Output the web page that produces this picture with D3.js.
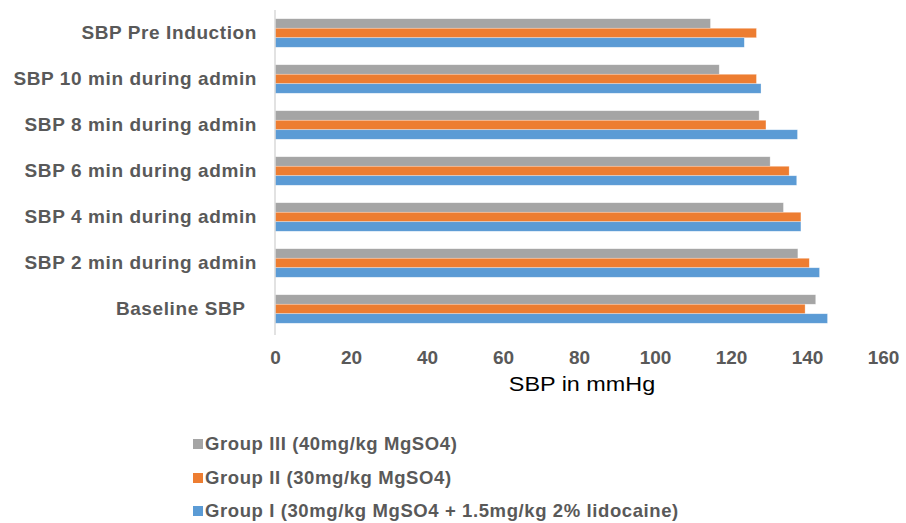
<!DOCTYPE html>
<html>
<head>
<meta charset="utf-8">
<script src="https://cdn.jsdelivr.net/npm/d3@7"></script>
<style>
  html, body { margin: 0; padding: 0; background: #fff; }
  svg { display: block; font-family: "Liberation Sans", Arial, sans-serif; }
</style>
</head>
<body>
<svg id="chart" width="906" height="523"></svg>
<script>
// Categories, top to bottom
const categories = [
  "SBP Pre Induction",
  "SBP 10 min during admin",
  "SBP 8 min during admin",
  "SBP 6 min during admin",
  "SBP 4 min during admin",
  "SBP 2 min during admin",
  "Baseline SBP  "
];
// Series (order within a group: top to bottom)
const seriesNames = [
  "Group III (40mg/kg MgSO4)",
  "Group II (30mg/kg MgSO4)",
  "Group I (30mg/kg MgSO4 + 1.5mg/kg 2% lidocaine)"
];
const groupIII = [114.6, 116.9, 127.4, 130.3, 133.8, 137.6, 142.3];
const groupII  = [126.7, 126.7, 129.2, 135.3, 138.4, 140.6, 139.5];
const groupI   = [123.5, 127.9, 137.5, 137.3, 138.4, 143.3, 145.4];
const seriesColors = ["#A5A5A5", "#ED7D31", "#5B9BD5"];
const xTicks = [0, 20, 40, 60, 80, 100, 120, 140, 160];
const xTitle = "SBP in mmHg";

const seriesValues = [groupIII, groupII, groupI];

const svg = d3.select("#chart");
const mLeft = 275, mRight = 883, mTop = 10, mBottom = 332;

const x = d3.scaleLinear().domain([0, 160]).range([mLeft, mRight]);
const y = d3.scaleBand().domain(categories).range([mTop, mBottom])
  .paddingInner(0.38).paddingOuter(0.19);
const ySub = d3.scaleBand().domain(seriesNames).range([0, y.bandwidth()]);

// bars
const g = svg.append("g");
seriesNames.forEach((name, si) => {
  g.selectAll(".bar" + si)
    .data(categories.map((c, i) => ({ c, v: seriesValues[si][i] })))
    .enter().append("rect")
    .attr("x", x(0))
    .attr("y", d => y(d.c) + ySub(name))
    .attr("width", d => x(d.v) - x(0))
    .attr("height", ySub.bandwidth())
    .attr("fill", seriesColors[si])
    .attr("stroke", "#ffffff")
    .attr("stroke-opacity", 0.5)
    .attr("stroke-width", 0.6);
});

// vertical axis line
svg.append("line")
  .attr("x1", x(0)).attr("x2", x(0))
  .attr("y1", mTop).attr("y2", mBottom + 3)
  .attr("stroke", "#D9D9D9").attr("stroke-width", 1.5);

// y labels
const yAxis = d3.axisLeft(y).tickSize(0).tickPadding(18);
const ya = svg.append("g").attr("transform", `translate(${x(0)},0)`).call(yAxis);
ya.select(".domain").remove();
ya.selectAll("text")
  .attr("fill", "#595959")
  .style("font-size", "19px")
  .style("letter-spacing", "0.6px")
  .style("font-weight", "bold")
  .style("font-family", "'Liberation Sans', Arial, sans-serif")
  .style("white-space", "pre");

// x labels
const xAxis = d3.axisBottom(x).tickValues(xTicks).tickSize(0).tickPadding(0);
const xa = svg.append("g").attr("transform", `translate(0,${mBottom + 18.5})`).call(xAxis);
xa.select(".domain").remove();
xa.selectAll("text")
  .attr("fill", "#595959")
  .style("font-size", "19px")
  .style("font-weight", "bold")
  .style("font-family", "'Liberation Sans', Arial, sans-serif");

// x title
svg.append("text")
  .attr("transform", "translate(582,391) scale(1.17,1)")
  .attr("text-anchor", "middle")
  .attr("fill", "#000")
  .style("font-size", "20px")
  .text(xTitle);

// legend
const legY = [444, 478, 511];
seriesNames.forEach((name, i) => {
  const lg = svg.append("g").attr("transform", `translate(193,${legY[i]})`);
  lg.append("rect").attr("x", 0).attr("y", -5).attr("width", 10).attr("height", 10)
    .attr("fill", seriesColors[i]);
  lg.append("text").attr("x", 12).attr("y", 0).attr("dy", "0.33em")
    .attr("fill", "#595959")
    .style("font-size", "18.5px").style("font-weight", "bold")
    .style("letter-spacing", "0.6px")
    .text(name);
});
</script>
</body>
</html>
